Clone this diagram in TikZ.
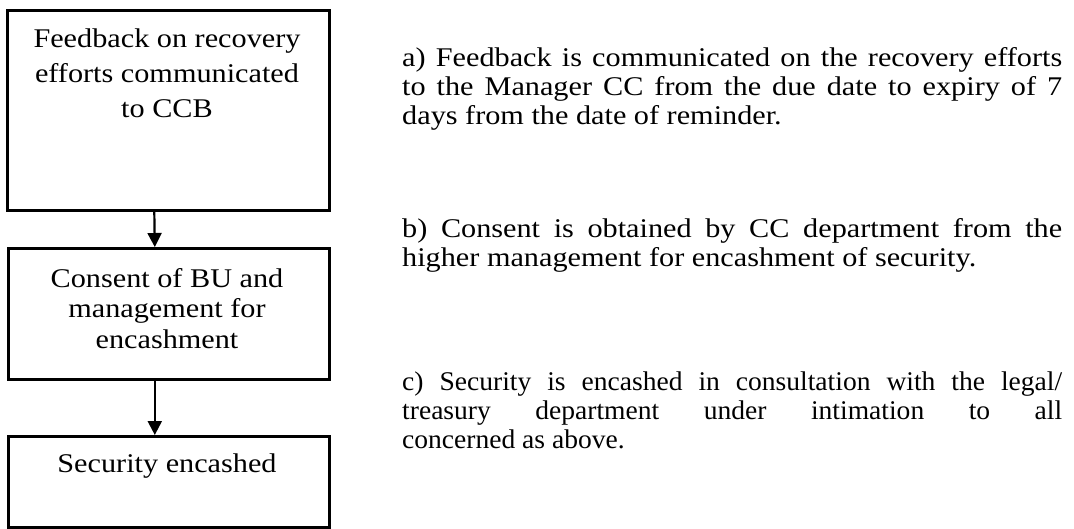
\documentclass[tikz,border=0pt]{standalone}
\usepackage{fontspec}
\setmainfont{Liberation Serif}[FakeStretch=1.12]
\newfontfamily\cfont{Liberation Serif}[FakeStretch=1.02]
\usetikzlibrary{arrows.meta}
\tikzset{
  boxnode/.style={draw=black, line width=2.6pt, rectangle, inner sep=0pt, anchor=north west},
  boxtext/.style={anchor=base, inner sep=0pt},
  sidetext/.style={anchor=base west, inner sep=0pt, font=\fontsize{27}{29}\selectfont},
  flowarrow/.style={line width=2.2pt, -{Triangle[width=14pt,length=14pt]}}
}
\begin{document}
\begin{tikzpicture}[x=1pt,y=-1pt]
\useasboundingbox (0,0) rectangle (1074,528);
% boxes
\node[boxnode, minimum width=322pt, minimum height=200pt] (b1) at (6,9) {};
\node[boxnode, minimum width=321pt, minimum height=131pt] (b2) at (7,247) {};
\node[boxnode, minimum width=321pt, minimum height=91pt] (b3) at (7,435) {};
% box texts
\node[boxtext, font=\fontsize{27}{35}\selectfont] (t1) at (167,47) {\parbox[t]{310pt}{\centering Feedback on recovery\\efforts communicated\\to CCB}};
\node[boxtext, font=\fontsize{27}{30.5}\selectfont] (t2) at (167,287) {\parbox[t]{310pt}{\centering Consent of BU and\\management for\\encashment}};
\node[boxtext, font=\fontsize{27}{30.5}\selectfont] (t3) at (167,472) {\parbox[t]{310pt}{\centering Security encashed}};
% arrows
\draw[flowarrow] ([xshift=-14pt]b1.south) -- ([xshift=-14pt]b2.north);
\draw[flowarrow] ([xshift=-14pt]b2.south) -- ([xshift=-14pt]b3.north);
% side texts
\node[sidetext] (ta) at (402,66) {\parbox[t]{660pt}{a) Feedback is communicated on the recovery efforts\linebreak to the Manager CC from the due date to expiry of 7\linebreak days from the date of reminder.}};
\node[sidetext] (tb) at (402,237) {\parbox[t]{660pt}{b) Consent is obtained by CC department from the\linebreak higher management for encashment of security.}};
\node[sidetext] (tc) at (402,390) {\parbox[t]{660pt}{\cfont c) Security is encashed in consultation with the legal/\linebreak treasury department under intimation to all\linebreak concerned as above.}};
\end{tikzpicture}
\end{document}
